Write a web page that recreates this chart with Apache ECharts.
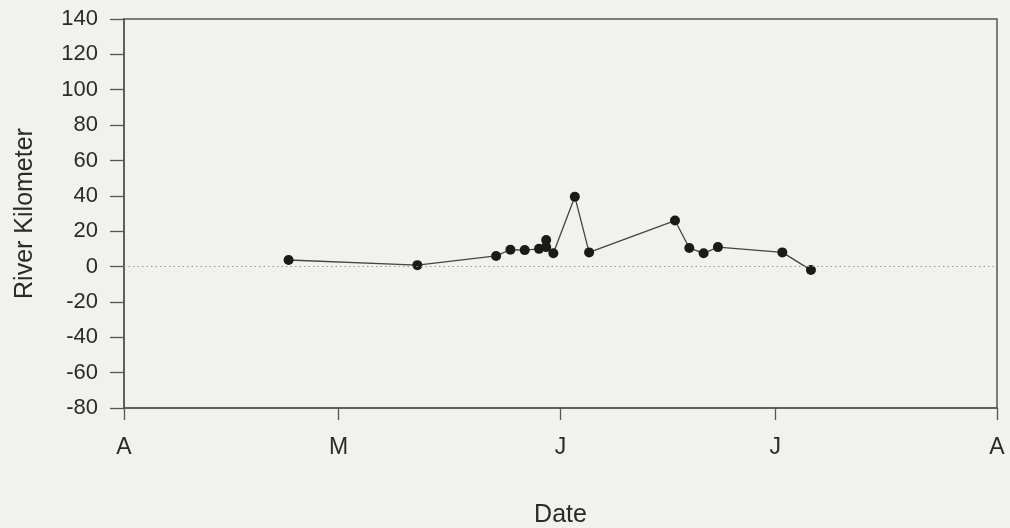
<!DOCTYPE html>
<html>
<head>
<meta charset="utf-8">
<script src="https://cdn.jsdelivr.net/npm/echarts@6/dist/echarts.min.js"></script>
<style>
html,body{margin:0;padding:0;background:#f1f1f0;}
#c{width:1010px;height:528px;}
</style>
</head>
<body>
<div id="c"></div>
<script>
// Observation dates (month-day) and river kilometer values
const dates = ['04-24','05-12','05-23','05-25','05-27','05-29','05-30','05-30','05-31','06-03','06-05','06-17','06-19','06-21','06-23','07-02','07-06'];
const riverKm = [3.7, 0.8, 6, 9.5, 9.3, 10, 15, 11, 7.5, 39.5, 8, 26, 10.5, 7.5, 11, 8, -2];
// Month tick positions (day offset from April 1) and labels
const monthTickDays = [0, 30, 61, 91, 122];
const monthLabels = ['A', 'M', 'J', 'J', 'A'];

function dayOffset(md) {
  const [m, d] = md.split('-').map(Number);
  return Math.round((Date.UTC(2000, m - 1, d) - Date.UTC(2000, 3, 1)) / 86400000);
}
const seriesData = dates.map((d, i) => [dayOffset(d), riverKm[i]]);

const chart = echarts.init(document.getElementById('c'), null, {renderer: 'canvas'});
const font = 'Liberation Sans, Arial, sans-serif';
chart.setOption({
  backgroundColor: '#f1f1f0',
  animation: false,
  grid: {left: 124, right: 13, top: 19, bottom: 120, outerBoundsMode: 'none', containLabel: false,
    show: true, borderColor: '#555', borderWidth: 1.5, backgroundColor: 'transparent'},
  xAxis: {
    type: 'value', min: 0, max: 122,
    name: 'Date', nameLocation: 'middle', nameGap: 107,
    nameTextStyle: {fontFamily: font, fontSize: 25, color: '#2a2a2a', verticalAlign: 'middle'},
    axisLine: {show: true, onZero: false, lineStyle: {color: '#555', width: 1.5}},
    axisTick: {show: true, length: 12, lineStyle: {color: '#555', width: 1.3}, customValues: monthTickDays},
    axisLabel: {customValues: monthTickDays, margin: 28, fontFamily: font, fontSize: 23, color: '#2a2a2a',
      formatter: v => monthLabels[monthTickDays.indexOf(v)] || ''},
    splitLine: {show: false}
  },
  yAxis: {
    type: 'value', min: -80, max: 140, interval: 20,
    name: 'River Kilometer', nameLocation: 'middle', nameGap: 99,
    nameTextStyle: {fontFamily: font, fontSize: 25, color: '#2a2a2a', verticalAlign: 'middle'},
    axisLine: {show: true, lineStyle: {color: '#555', width: 1.5}},
    axisTick: {show: true, length: 14, lineStyle: {color: '#555', width: 1.3}},
    axisLabel: {margin: 26, fontFamily: font, fontSize: 22, color: '#2a2a2a'},
    splitLine: {show: false}
  },
  series: [{
    type: 'line',
    data: seriesData,
    symbol: 'circle', symbolSize: 10,
    itemStyle: {color: '#1a1a1a'},
    lineStyle: {color: '#444', width: 1.3},
    markLine: {
      silent: true, symbol: 'none', label: {show: false},
      lineStyle: {color: '#999', type: [1.5, 3], width: 1},
      data: [{yAxis: 0}]
    }
  }]
});
</script>
</body>
</html>
